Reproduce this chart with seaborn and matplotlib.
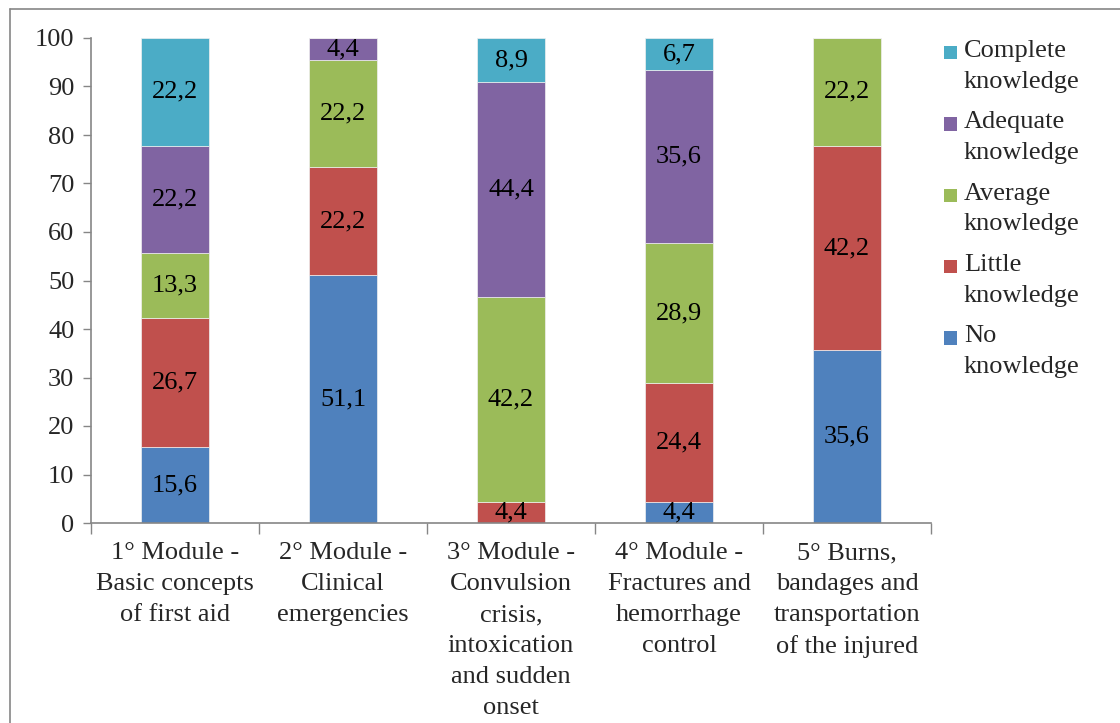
import matplotlib
matplotlib.use("Agg")
import matplotlib.pyplot as plt
import seaborn as sns
import pandas as pd
from matplotlib.patches import Patch, Rectangle
from matplotlib.lines import Line2D
from matplotlib.legend_handler import HandlerPatch

sns.set_theme(style="white")
FONT = ["Liberation Serif", "DejaVu Serif"]
plt.rcParams["font.family"] = FONT
FS = 19
LS = 1.52

# data
modules = [
    "1° Module -\nBasic concepts\nof first aid",
    "2° Module -\nClinical\nemergencies",
    "3° Module -\nConvulsion\ncrisis,\nintoxication\nand sudden\nonset",
    "4° Module -\nFractures and\nhemorrhage\ncontrol",
    "5° Burns,\nbandages and\ntransportation\nof the injured",
]
series_names = ["No\nknowledge", "Little\nknowledge", "Average\nknowledge",
                "Adequate\nknowledge", "Complete\nknowledge"]
no_knowledge = [15.6, 51.1, 0, 4.4, 35.6]
little_knowledge = [26.7, 22.2, 4.4, 24.4, 42.2]
average_knowledge = [13.3, 22.2, 42.2, 28.9, 22.2]
adequate_knowledge = [22.2, 4.4, 44.4, 35.6, 0]
complete_knowledge = [22.2, 0, 8.9, 6.7, 0]
colors = ["#4F81BD", "#C0504D", "#9BBB59", "#8064A2", "#4BACC6"]

values = [no_knowledge, little_knowledge, average_knowledge,
          adequate_knowledge, complete_knowledge]

W, H = 1120, 723
fig = plt.figure(figsize=(W / 100, H / 100), dpi=100)
ax = fig.add_axes([91 / W, 1 - 523 / H, 840 / W, 485 / H])

bottom = [0.0] * len(modules)
for name, vals, col in zip(series_names, values, colors):
    df = pd.DataFrame({"module": modules, "value": vals})
    sns.barplot(data=df, x="module", y="value", color=col, bottom=bottom,
                width=0.4, ax=ax, saturation=1, edgecolor="#f0f0f0",
                linewidth=0.5)
    for i, v in enumerate(vals):
        if v > 0:
            ax.text(i, bottom[i] + v / 2, f"{v:.1f}".replace(".", ","),
                    ha="center", va="center", fontsize=FS, color="black",
                    family=FONT)
    bottom = [b + v for b, v in zip(bottom, vals)]

ax.set_xlim(-0.5, 4.5)
ax.set_ylim(0, 100)
ax.set_yticks(range(0, 101, 10))
ax.set_yticklabels([str(v) for v in range(0, 101, 10)], family=FONT,
                   fontsize=FS)
ax.set_xticks(range(len(modules)))
ax.set_xticklabels(modules, family=FONT, fontsize=FS, va="top")
for lbl in ax.get_xticklabels():
    lbl.set_linespacing(LS)
ax.set_xlabel("")
ax.set_ylabel("")
ax.tick_params(axis="y", length=6, width=1, color="#868686",
               direction="out", left=True, pad=6)
ax.tick_params(axis="x", which="major", length=0, pad=14)
ax.set_xticks([x - 0.5 for x in range(6)], minor=True)
ax.tick_params(axis="x", which="minor", length=8, width=1, color="#868686",
               direction="out", bottom=True)
sns.despine(ax=ax)
for s in ["left", "bottom"]:
    ax.spines[s].set_color("#868686")
    ax.spines[s].set_linewidth(1.2)


def top_square(legend, orig_handle, xdescent, ydescent, width, height, fontsize):
    s = 0.5 * fontsize
    return Rectangle((-xdescent, -ydescent + height - s - 0.12 * fontsize), s, s)


handles = [Patch(facecolor=c, edgecolor="none") for c in colors][::-1]
leg = ax.legend(handles, series_names[::-1], loc="upper left",
                bbox_to_anchor=(944 / W, 1 - 40 / H),
                bbox_transform=fig.transFigure,
                frameon=False, prop={"family": FONT, "size": FS},
                handlelength=0.5, handleheight=2.4,
                handletextpad=0.25, labelspacing=0.7, borderaxespad=0,
                borderpad=0,
                handler_map={Patch: HandlerPatch(patch_func=top_square)})
for t in leg.get_texts():
    t.set_linespacing(LS)

# outer border like the source document
fig.add_artist(Line2D([10 / W, 10 / W], [0, 1 - 9 / H], color="#868686", lw=1.2))
fig.add_artist(Line2D([10 / W, 1], [1 - 9 / H, 1 - 9 / H], color="#868686", lw=1.2))

fig.savefig("out.png", dpi=100)
